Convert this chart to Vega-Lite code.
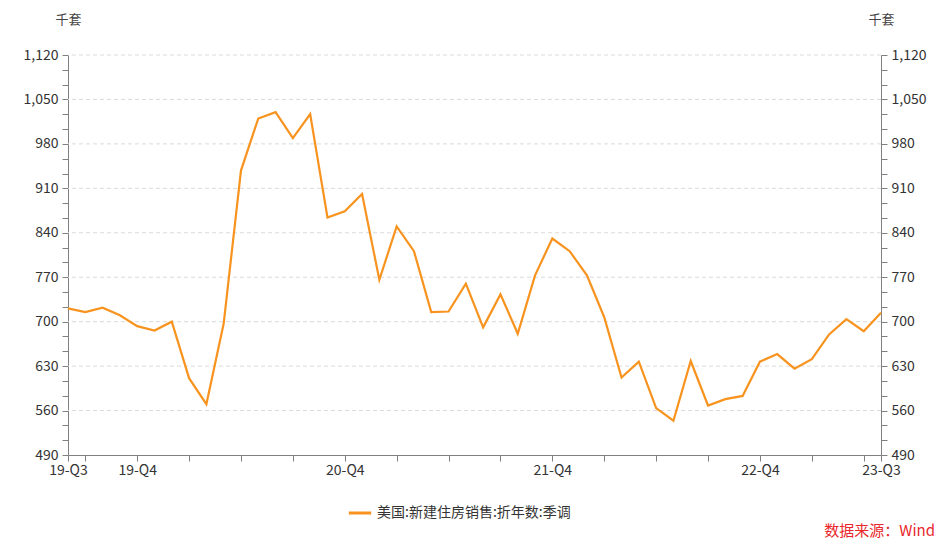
{
  "$schema": "https://vega.github.io/schema/vega-lite/v6.json",
  "autosize": "none",
  "width": 813,
  "height": 400,
  "padding": {"left": 68, "top": 55, "right": 64, "bottom": 95},
  "background": "white",
  "config": {
    "view": {"stroke": null},
    "font": "Noto Sans CJK SC",
    "axis": {"labelFont": "Noto Sans CJK SC", "titleFont": "Noto Sans CJK SC"}
  },
  "title": {
    "text": "数据来源：Wind",
    "orient": "bottom",
    "anchor": "end",
    "frame": "group",
    "color": "#E8262B",
    "fontSize": 15,
    "fontWeight": "normal",
    "font": "Noto Sans CJK SC",
    "dx": 54,
    "offset": 4
  },
  "datasets": {
    "sales": [
      {"m": "2019-08", "v": 721}, {"m": "2019-09", "v": 715}, {"m": "2019-10", "v": 722},
      {"m": "2019-11", "v": 710}, {"m": "2019-12", "v": 693}, {"m": "2020-01", "v": 686},
      {"m": "2020-02", "v": 700}, {"m": "2020-03", "v": 611}, {"m": "2020-04", "v": 570},
      {"m": "2020-05", "v": 697}, {"m": "2020-06", "v": 938}, {"m": "2020-07", "v": 1020},
      {"m": "2020-08", "v": 1030}, {"m": "2020-09", "v": 989}, {"m": "2020-10", "v": 1027},
      {"m": "2020-11", "v": 864}, {"m": "2020-12", "v": 874}, {"m": "2021-01", "v": 901},
      {"m": "2021-02", "v": 766}, {"m": "2021-03", "v": 850}, {"m": "2021-04", "v": 811},
      {"m": "2021-05", "v": 715}, {"m": "2021-06", "v": 716}, {"m": "2021-07", "v": 760},
      {"m": "2021-08", "v": 691}, {"m": "2021-09", "v": 743}, {"m": "2021-10", "v": 681},
      {"m": "2021-11", "v": 773}, {"m": "2021-12", "v": 831}, {"m": "2022-01", "v": 811},
      {"m": "2022-02", "v": 773}, {"m": "2022-03", "v": 707}, {"m": "2022-04", "v": 612},
      {"m": "2022-05", "v": 637}, {"m": "2022-06", "v": 564}, {"m": "2022-07", "v": 544},
      {"m": "2022-08", "v": 638}, {"m": "2022-09", "v": 568}, {"m": "2022-10", "v": 578},
      {"m": "2022-11", "v": 583}, {"m": "2022-12", "v": 637}, {"m": "2023-01", "v": 649},
      {"m": "2023-02", "v": 626}, {"m": "2023-03", "v": 641}, {"m": "2023-04", "v": 680},
      {"m": "2023-05", "v": 704}, {"m": "2023-06", "v": 685}, {"m": "2023-07", "v": 714}
    ],
    "grid": [
      {"g": 560}, {"g": 630}, {"g": 700}, {"g": 770}, {"g": 840},
      {"g": 910}, {"g": 980}, {"g": 1050}, {"g": 1120}
    ]
  },
  "layer": [
    {
      "data": {"name": "grid"},
      "mark": {"type": "rule", "stroke": "#DADADA", "strokeWidth": 1, "strokeDash": [4, 3]},
      "encoding": {
        "y": {
          "field": "g",
          "type": "quantitative",
          "scale": {"domain": [490, 1120], "nice": false, "zero": false},
          "axis": {
            "orient": "right",
            "values": [490, 513.3333, 536.6667, 560, 583.3333, 606.6667, 630, 653.3333, 676.6667, 700, 723.3333, 746.6667, 770, 793.3333, 816.6667, 840, 863.3333, 886.6667, 910, 933.3333, 956.6667, 980, 1003.3333, 1026.6667, 1050, 1073.3333, 1096.6667, 1120],
            "labelExpr": "abs(datum.value/70 - round(datum.value/70)) < 0.001 ? format(datum.value, ',') : ''",
            "labelOverlap": false,
            "grid": false,
            "domainColor": "#808080",
            "tickColor": "#808080",
            "tickSize": 6,
            "labelPadding": 4,
            "labelFontSize": 14,
            "labelColor": "#333333",
            "title": "千套",
            "titleAngle": 0,
            "titleX": 0,
            "titleY": -36,
            "titleAlign": "center",
            "titleBaseline": "middle",
            "titleFontSize": 13,
            "titleFontWeight": "normal",
            "titleColor": "#444444"
          }
        }
      }
    },
    {
      "data": {"name": "sales"},
      "mark": {"type": "line", "strokeWidth": 2.2},
      "encoding": {
        "x": {
          "field": "m",
          "type": "ordinal",
          "sort": null,
          "scale": {"type": "point", "padding": 0},
          "axis": {
            "title": null,
            "values": ["2019-08", "2019-09", "2019-12", "2020-03", "2020-06", "2020-09", "2020-12", "2021-03", "2021-06", "2021-09", "2021-12", "2022-03", "2022-06", "2022-09", "2022-12", "2023-03", "2023-06", "2023-07"],
            "labelExpr": "datum.value == '2019-08' ? '19-Q3' : datum.value == '2019-12' ? '19-Q4' : datum.value == '2020-12' ? '20-Q4' : datum.value == '2021-12' ? '21-Q4' : datum.value == '2022-12' ? '22-Q4' : datum.value == '2023-07' ? '23-Q3' : ''",
            "labelAngle": 0,
            "labelOverlap": false,
            "grid": false,
            "domainColor": "#808080",
            "tickColor": "#808080",
            "tickSize": 6,
            "labelPadding": 2,
            "labelFontSize": 14,
            "labelColor": "#333333"
          }
        },
        "y": {
          "field": "v",
          "type": "quantitative",
          "scale": {"domain": [490, 1120], "nice": false, "zero": false},
          "axis": {
            "orient": "left",
            "values": [490, 513.3333, 536.6667, 560, 583.3333, 606.6667, 630, 653.3333, 676.6667, 700, 723.3333, 746.6667, 770, 793.3333, 816.6667, 840, 863.3333, 886.6667, 910, 933.3333, 956.6667, 980, 1003.3333, 1026.6667, 1050, 1073.3333, 1096.6667, 1120],
            "labelExpr": "abs(datum.value/70 - round(datum.value/70)) < 0.001 ? format(datum.value, ',') : ''",
            "labelOverlap": false,
            "grid": false,
            "domainColor": "#808080",
            "tickColor": "#808080",
            "tickSize": 6,
            "labelPadding": 4,
            "labelFontSize": 14,
            "labelColor": "#333333",
            "title": "千套",
            "titleAngle": 0,
            "titleX": 0,
            "titleY": -36,
            "titleAlign": "center",
            "titleBaseline": "middle",
            "titleFontSize": 13,
            "titleFontWeight": "normal",
            "titleColor": "#444444"
          }
        },
        "color": {
          "datum": "美国:新建住房销售:折年数:季调",
          "type": "nominal",
          "scale": {"range": ["#F7931E"]},
          "legend": {
            "title": null,
            "orient": "none",
            "legendX": 279,
            "legendY": 445,
            "symbolType": "stroke",
            "symbolSize": 500,
            "symbolStrokeWidth": 3,
            "labelFontSize": 14,
            "labelLimit": 500,
            "labelColor": "#333333",
            "labelFont": "Noto Sans CJK SC"
          }
        }
      }
    }
  ],
  "resolve": {"axis": {"y": "independent"}}
}
